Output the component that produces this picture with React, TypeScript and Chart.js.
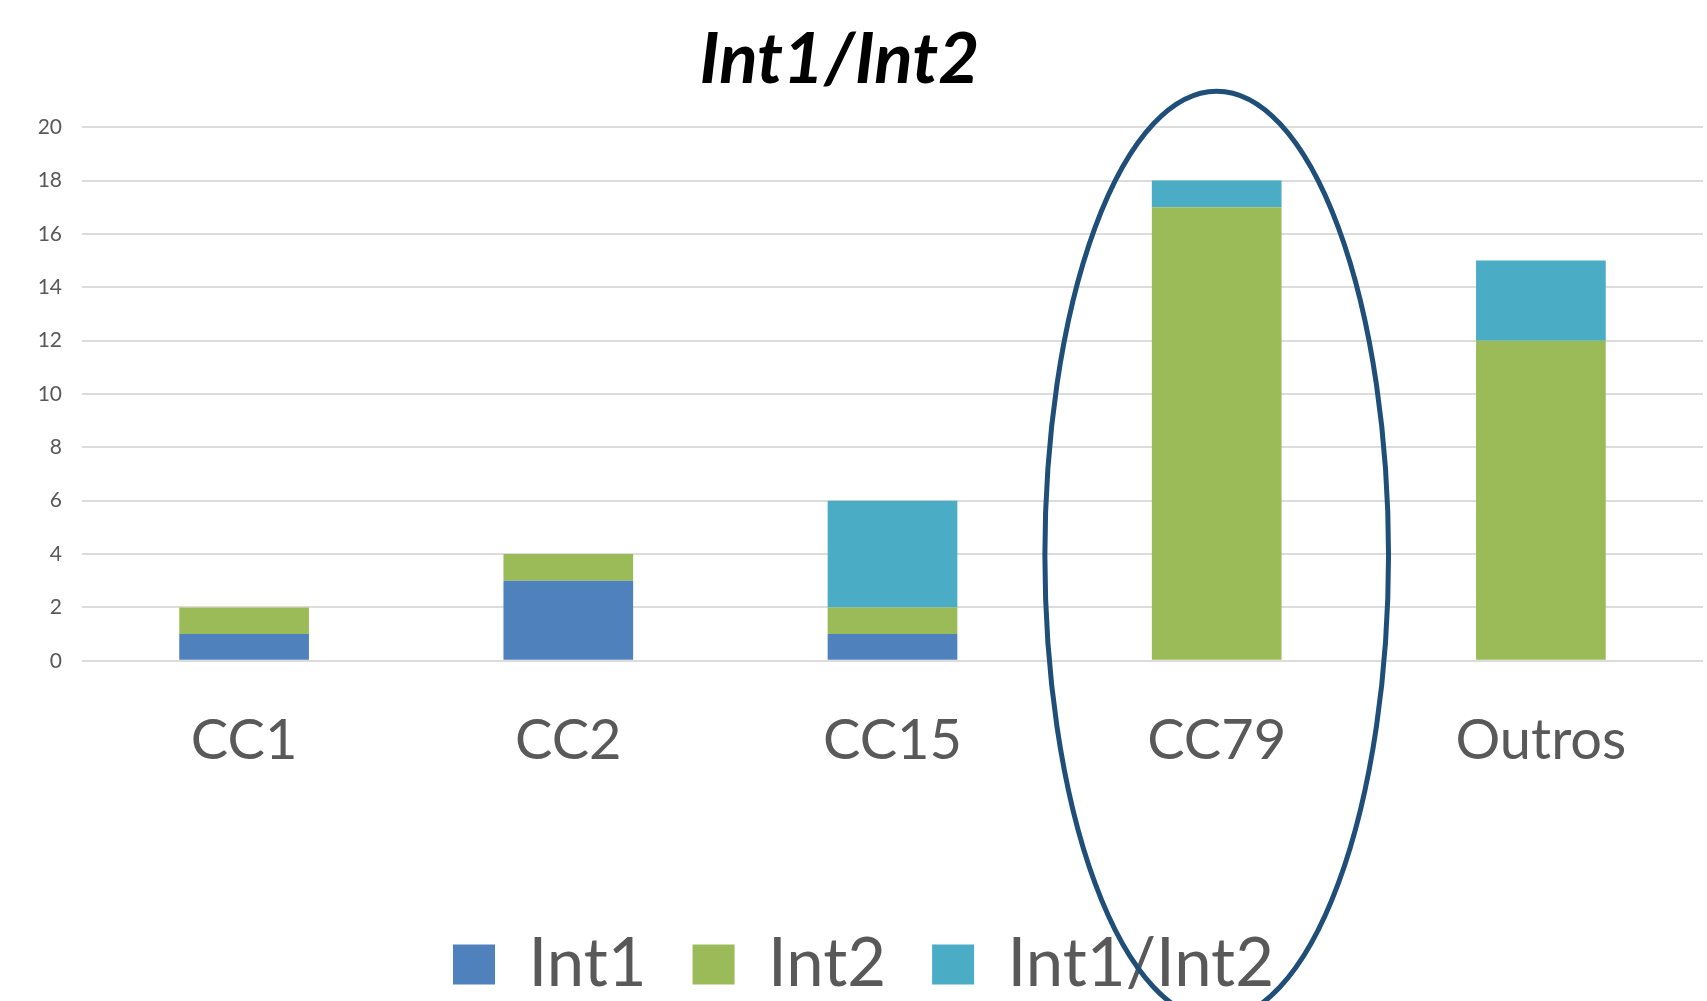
import React, { useEffect, useRef } from "react";
import { Chart, registerables } from "chart.js";

Chart.register(...registerables);

const categories = ["CC1", "CC2", "CC15", "CC79", "Outros"];
const int1Values = [1, 3, 1, 0, 0];
const int2Values = [1, 1, 1, 17, 12];
const bothValues = [0, 0, 4, 1, 3];
const seriesNames = ["Int1", "Int2", "Int1/Int2"];
const yTicks = { min: 0, max: 20, step: 2 };
const chartTitle = "Int1/Int2";
// highlight ellipse around category index 3 (CC79), in data units
const highlightIndex = 3;
const highlightTop = 21.35;
const highlightBottom = -13.45;
const highlightHalfWidth = 0.53; // fraction of category width

const W = 1707;
const H = 1001;

const ellipsePlugin = {
  id: "highlightEllipse",
  afterDraw(chart: any) {
    const { ctx, scales } = chart;
    const x = scales.x;
    const y = scales.y;
    const cx = x.getPixelForValue(highlightIndex);
    const catW = x.getPixelForValue(1) - x.getPixelForValue(0);
    const rx = catW * highlightHalfWidth;
    const top = y.getPixelForValue(highlightTop);
    const bottom = y.getPixelForValue(highlightBottom);
    const cy = (top + bottom) / 2;
    const ry = (bottom - top) / 2;
    ctx.save();
    ctx.beginPath();
    ctx.ellipse(cx, cy, rx, ry, 0, 0, Math.PI * 2);
    ctx.strokeStyle = "#1F4E79";
    ctx.lineWidth = 5;
    ctx.stroke();
    ctx.restore();
  },
};

// small nudges of the title and legend blocks
const nudgePlugin = {
  id: "nudgeBlocks",
  afterLayout(chart: any) {
    const t = chart.titleBlock;
    if (t) {
      t.left -= 12;
      t.right -= 12;
    }
    const l = chart.legend;
    if (l) {
      l.left += 12;
      l.right += 12;
      l.top += 7;
      l.bottom += 7;
    }
  },
};

export default function App() {
  const ref = useRef<HTMLCanvasElement | null>(null);
  useEffect(() => {
    if (!ref.current) return;
    const chart = new Chart(ref.current, {
      type: "bar",
      data: {
        labels: categories,
        datasets: [
          { label: seriesNames[0], data: int1Values, backgroundColor: "#4F81BD", borderWidth: 0 },
          { label: seriesNames[1], data: int2Values, backgroundColor: "#9BBB59", borderWidth: 0 },
          { label: seriesNames[2], data: bothValues, backgroundColor: "#4BACC6", borderWidth: 0 },
        ],
      },
      options: {
        responsive: false,
        animation: false,
        devicePixelRatio: 1,
        layout: { padding: { left: 0, right: 4, top: 0, bottom: 0 } },
        datasets: { bar: { barPercentage: 0.4, categoryPercentage: 1 } },
        scales: {
          x: {
            stacked: true,
            grid: { display: false, drawTicks: false },
            border: { display: false },
            ticks: {
              color: "#595959",
              font: { family: "Lato", size: 56 },
              padding: 47,
              maxRotation: 0,
              autoSkip: false,
            },
          },
          y: {
            stacked: true,
            min: yTicks.min,
            max: yTicks.max,
            grid: { color: "#dcdcdc", lineWidth: 2, drawTicks: false },
            border: { display: false },
            ticks: {
              stepSize: yTicks.step,
              color: "#595959",
              font: { family: "Lato", size: 21 },
              padding: 20,
            },
            afterFit: (s: any) => {
              s.width = 82;
            },
          },
        },
        plugins: {
          title: {
            display: true,
            text: chartTitle,
            color: "#000000",
            font: { family: "Lato", size: 71, weight: "bold", style: "italic" },
            padding: { top: 18, bottom: 24 },
          },
          legend: {
            position: "bottom",
            title: { display: true, text: " ", font: { size: 10 }, padding: { top: 44, bottom: 0 } },
            labels: {
              color: "#595959",
              font: { family: "Lato", size: 67 },
              boxWidth: 42,
              boxHeight: 40,
              padding: 46,
            },
          },
          tooltip: { enabled: false },
        },
      },
      plugins: [nudgePlugin, ellipsePlugin],
    });
    return () => chart.destroy();
  }, []);
  return (
    <div style={{ position: "fixed", left: 0, top: 0, width: W, height: H, background: "#ffffff" }}>
      <canvas ref={ref} width={W} height={H} style={{ width: W, height: H, display: "block" }} />
    </div>
  );
}
